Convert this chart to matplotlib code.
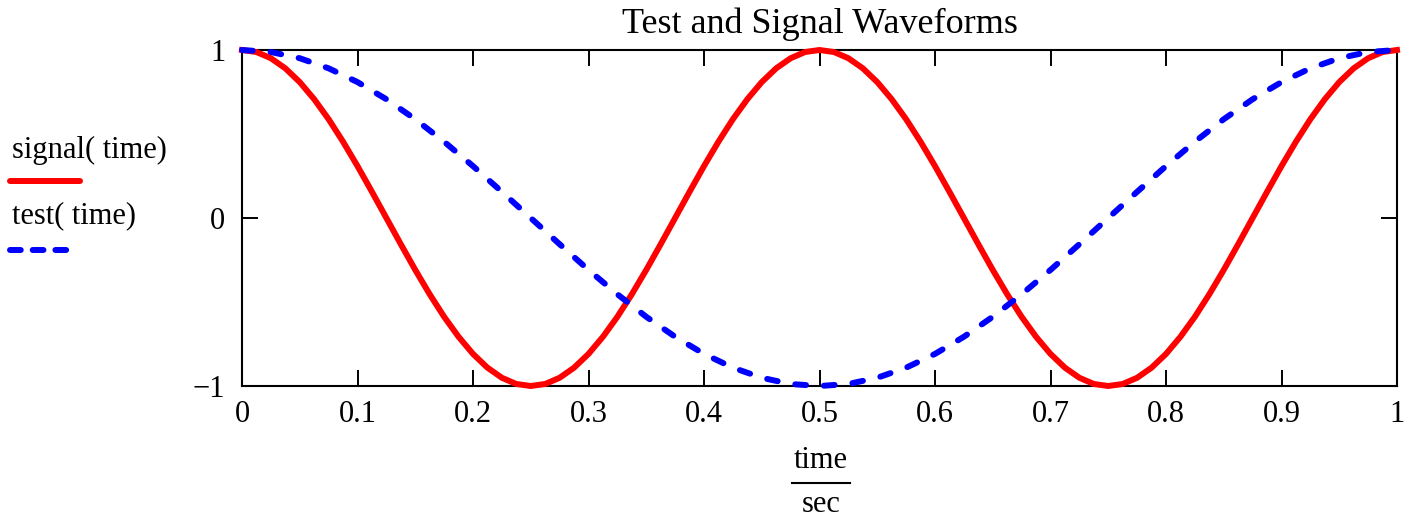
import matplotlib
matplotlib.use('Agg')
import matplotlib.pyplot as plt
from matplotlib.lines import Line2D

plt.rcParams['font.family'] = ['Liberation Serif', 'DejaVu Serif']

# values
time_fine = [i * 0.0125 for i in range(81)]
signal = [1, .988, .951, .891, .809, .707, .588, .454, .309, .156, 0,
          -.156, -.309, -.454, -.588, -.707, -.809, -.891, -.951, -.988, -1,
          -.988, -.951, -.891, -.809, -.707, -.588, -.454, -.309, -.156, 0,
          .156, .309, .454, .588, .707, .809, .891, .951, .988, 1,
          .988, .951, .891, .809, .707, .588, .454, .309, .156, 0,
          -.156, -.309, -.454, -.588, -.707, -.809, -.891, -.951, -.988, -1,
          -.988, -.951, -.891, -.809, -.707, -.588, -.454, -.309, -.156, 0,
          .156, .309, .454, .588, .707, .809, .891, .951, .988, 1]
time_coarse = [i * 0.025 for i in range(41)]
test = [1, .988, .951, .891, .809, .707, .588, .454, .309, .156, 0,
        -.156, -.309, -.454, -.588, -.707, -.809, -.891, -.951, -.988, -1,
        -.988, -.951, -.891, -.809, -.707, -.588, -.454, -.309, -.156, 0,
        .156, .309, .454, .588, .707, .809, .891, .951, .988, 1]
xticks = [0, 0.1, 0.2, 0.3, 0.4, 0.5, 0.6, 0.7, 0.8, 0.9, 1]
xticklabels = ['0', '0.1', '0.2', '0.3', '0.4', '0.5', '0.6', '0.7', '0.8', '0.9', '1']
yticks = [-1, 0, 1]
yticklabels = ['\u22121', '0', '1']

W, H = 1421, 522
LW = 4.3
fig = plt.figure(figsize=(W / 100, H / 100), dpi=100)
ax = fig.add_axes([242 / W, 1 - 386 / H, (1397 - 242) / W, (386 - 50) / H])

ax.plot(time_fine, signal, color='#ff0000', lw=LW, clip_on=False, zorder=3)
ax.plot(time_coarse, test, color='#0000ff', lw=LW, dashes=(1.8, 3.0),
        dash_capstyle='round', clip_on=False, zorder=4)

ax.set_xlim(0, 1)
ax.set_ylim(-1, 1)
ax.set_xticks(xticks)
ax.set_xticklabels(xticklabels)
ax.set_yticks(yticks)
ax.set_yticklabels(yticklabels)
ax.tick_params(direction='in', length=11.5, width=1.4, labelsize=22,
               top=True, right=True, color='black')
ax.tick_params(axis='x', pad=10)
ax.tick_params(axis='y', pad=12)
for s in ax.spines.values():
    s.set_linewidth(1.5)

ax.set_title('Test and Signal Waveforms', fontsize=26, pad=12)

# fraction-style axis label
fig.text(821 / W, 1 - 461 / H, 'time', ha='center', va='center', fontsize=22)
fig.add_artist(Line2D([792 / W, 850 / W], [1 - 483 / H, 1 - 483 / H],
                      color='black', lw=1.5))
fig.text(821 / W, 1 - 505 / H, 'sec', ha='center', va='center', fontsize=22)

# Mathcad-style trace labels
fig.text(12 / W, 1 - 150 / H, 'signal( time)', ha='left', va='center', fontsize=22)
fig.add_artist(Line2D([10 / W, 80 / W], [1 - 181 / H, 1 - 181 / H],
                      color='#ff0000', lw=LW, solid_capstyle='round'))
fig.text(12 / W, 1 - 216 / H, 'test( time)', ha='left', va='center', fontsize=22)
fig.add_artist(Line2D([10 / W, 70 / W], [1 - 250 / H, 1 - 250 / H],
                      color='#0000ff', lw=LW, dashes=(1.8, 2.0),
                      dash_capstyle='round'))

fig.savefig('out.png', dpi=100)
